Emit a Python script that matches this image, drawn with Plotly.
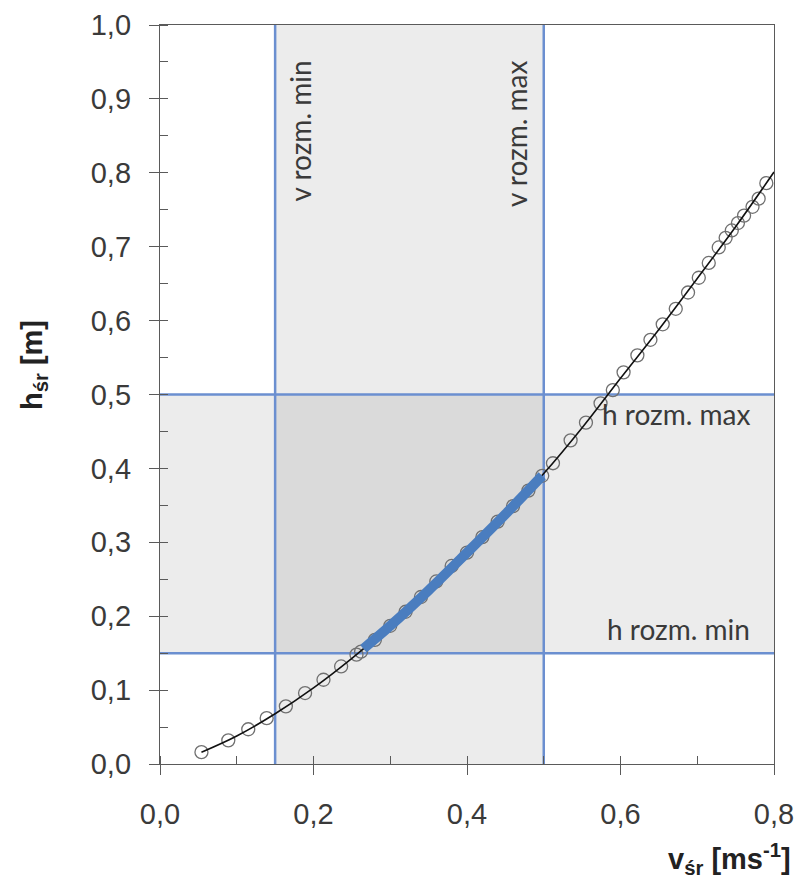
import plotly.graph_objects as go

# Measured points (open circles)
meas_v = [0.054, 0.089, 0.115, 0.139, 0.164, 0.189, 0.213, 0.236, 0.256, 0.262,
          0.280, 0.300, 0.320, 0.340, 0.360, 0.380, 0.400, 0.420, 0.440, 0.460, 0.480, 0.498,
          0.512, 0.535, 0.555, 0.574, 0.590, 0.604, 0.622, 0.639, 0.655, 0.672, 0.688,
          0.702, 0.715, 0.728, 0.737, 0.745, 0.753, 0.761, 0.772, 0.780, 0.790]
meas_h = [0.016, 0.032, 0.047, 0.062, 0.078, 0.096, 0.114, 0.132, 0.148, 0.152,
          0.168, 0.187, 0.206, 0.226, 0.247, 0.268, 0.286, 0.307, 0.328, 0.349, 0.370, 0.390,
          0.407, 0.438, 0.462, 0.488, 0.506, 0.530, 0.553, 0.574, 0.595, 0.616, 0.638,
          0.658, 0.678, 0.699, 0.712, 0.722, 0.732, 0.742, 0.754, 0.765, 0.786]

# Fitted curve (black line)
fit_v = [0.054, 0.10, 0.15, 0.20, 0.25, 0.30, 0.35, 0.40, 0.45, 0.50, 0.55, 0.60, 0.65, 0.70, 0.75, 0.80]
fit_h = [0.016, 0.038, 0.068, 0.103, 0.143, 0.187, 0.235, 0.286, 0.338, 0.393, 0.455, 0.522, 0.588, 0.657, 0.727, 0.801]

# Design range segment (thick blue)
design_v = [0.265, 0.30, 0.35, 0.40, 0.45, 0.498]
design_h = [0.156, 0.187, 0.235, 0.286, 0.338, 0.390]

# Limits
v_min, v_max = 0.15, 0.50
h_min, h_max = 0.15, 0.50

x_ticks = [0.0, 0.2, 0.4, 0.6, 0.8]
y_ticks = [0.0, 0.1, 0.2, 0.3, 0.4, 0.5, 0.6, 0.7, 0.8, 0.9, 1.0]

LIM_COLOR = "#6b8fd0"
SHADE = "rgba(0,0,0,0.075)"
AXIS_COLOR = "#5a5a5a"
TICK_FONT = dict(family="Liberation Sans, Arial, sans-serif", size=29, color="#3a3a3a")
ANN_FONT = dict(family="Lato, sans-serif", size=28, color="#3a3a3a")

fig = go.Figure()

fig.add_trace(go.Scatter(x=meas_v, y=meas_h, mode="markers",
                         marker=dict(symbol="circle-open", size=13, color="#707070",
                                     line=dict(width=1.3, color="#707070")),
                         hoverinfo="skip", showlegend=False))
fig.add_trace(go.Scatter(x=fit_v, y=fit_h, mode="lines",
                         line=dict(color="#111111", width=1.6, shape="spline"),
                         showlegend=False))
fig.add_trace(go.Scatter(x=design_v, y=design_h, mode="lines",
                         line=dict(color="#4a7dbf", width=10, shape="spline"),
                         showlegend=False))
# invisible trace to host the inside-tick overlay axes
fig.add_trace(go.Scatter(x=[None], y=[None], xaxis="x2", yaxis="y2", showlegend=False,
                         hoverinfo="skip"))

# shaded bands
fig.add_shape(type="rect", xref="x", yref="y", x0=v_min, x1=v_max, y0=0, y1=1,
              fillcolor=SHADE, line_width=0, layer="below")
fig.add_shape(type="rect", xref="x", yref="y", x0=0, x1=0.8, y0=h_min, y1=h_max,
              fillcolor=SHADE, line_width=0, layer="below")
# limit lines
for v in (v_min, v_max):
    fig.add_shape(type="line", xref="x", yref="y", x0=v, x1=v, y0=0, y1=1,
                  line=dict(color=LIM_COLOR, width=2.5), layer="below")
for h in (h_min, h_max):
    fig.add_shape(type="line", xref="x", yref="y", x0=0, x1=0.8, y0=h, y1=h,
                  line=dict(color=LIM_COLOR, width=2.5), layer="below")

fig.add_annotation(x=0.182, y=0.955, xref="x", yref="y", text="v rozm. min", textangle=-90,
                   xanchor="center", yanchor="top", showarrow=False, font=ANN_FONT)
fig.add_annotation(x=0.463, y=0.955, xref="x", yref="y", text="v rozm. max", textangle=-90,
                   xanchor="center", yanchor="top", showarrow=False, font=ANN_FONT)
fig.add_annotation(x=0.771, y=0.473, xref="x", yref="y", text="h rozm. max",
                   xanchor="right", yanchor="middle", showarrow=False, font=ANN_FONT)
fig.add_annotation(x=0.771, y=0.183, xref="x", yref="y", text="h rozm. min",
                   xanchor="right", yanchor="middle", showarrow=False, font=ANN_FONT)

TITLE_FONT = dict(family="Liberation Sans, Arial, sans-serif", size=29, color="#222222")
fig.add_annotation(x=-0.205, y=0.54, xref="paper", yref="paper",
                   text="<b>h<sub>śr</sub> [m]</b>", textangle=-90,
                   xanchor="center", yanchor="middle", showarrow=False, font=TITLE_FONT)
fig.add_annotation(x=1.031, y=-0.128, xref="paper", yref="paper",
                   text="<b>v<sub>śr</sub> [ms<sup>-1</sup>]</b>",
                   xanchor="right", yanchor="middle", showarrow=False, font=TITLE_FONT)

fig.update_layout(
    width=798, height=891,
    margin=dict(l=160, r=24, t=25, b=127),
    plot_bgcolor="white", paper_bgcolor="white",
    separators=", ",
    showlegend=False,
    xaxis=dict(range=[0, 0.8], tickvals=x_ticks, tickformat=".1f", automargin=False,
               showgrid=False, zeroline=False, showline=True, linecolor=AXIS_COLOR,
               linewidth=1.3, mirror=True, ticks="outside", ticklen=10, tickwidth=1.3,
               tickcolor=AXIS_COLOR, tickfont=TICK_FONT, ticklabelstandoff=14,
               minor=dict(ticks="inside", dtick=0.1, tick0=0, ticklen=8, tickwidth=1.2,
                          tickcolor=AXIS_COLOR, showgrid=False)),
    yaxis=dict(range=[0, 1.0], tickvals=y_ticks, tickformat=".1f", automargin=False,
               showgrid=False, zeroline=False, showline=True, linecolor=AXIS_COLOR,
               linewidth=1.3, mirror=True, ticks="outside", ticklen=10, tickwidth=1.3,
               tickcolor=AXIS_COLOR, tickfont=TICK_FONT, ticklabelstandoff=12,
               minor=dict(ticks="inside", dtick=0.05, tick0=0, ticklen=8, tickwidth=1.2,
                          tickcolor=AXIS_COLOR, showgrid=False)),
    xaxis2=dict(range=[0, 0.8], overlaying="x", anchor="y", side="bottom", automargin=False,
                tickvals=x_ticks, ticks="inside", ticklen=7, tickwidth=1.3,
                tickcolor=AXIS_COLOR, showticklabels=False, showgrid=False,
                zeroline=False, showline=False),
    yaxis2=dict(range=[0, 1.0], overlaying="y", anchor="x", side="left", automargin=False,
                tickvals=y_ticks, ticks="inside", ticklen=7, tickwidth=1.3,
                tickcolor=AXIS_COLOR, showticklabels=False, showgrid=False,
                zeroline=False, showline=False),
)

fig.write_html("out.html", config={"displayModeBar": False},
               post_script="document.body.style.margin='0';")
